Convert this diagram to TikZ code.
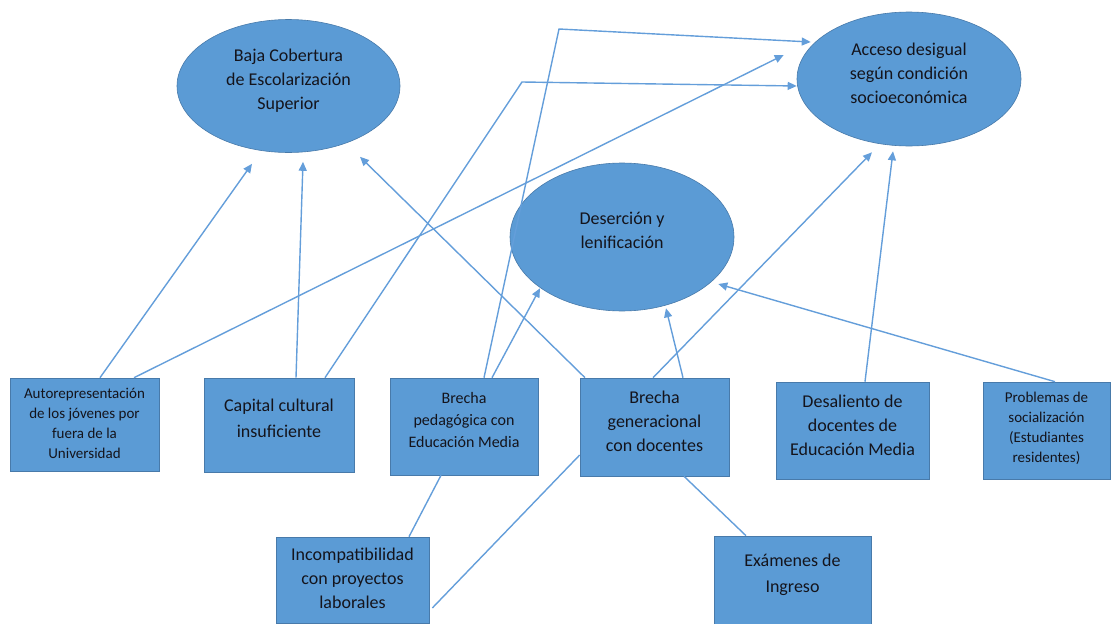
\documentclass[tikz,border=0pt]{standalone}
\usepackage{fontspec}
\setmainfont{Carlito}
\usetikzlibrary{shapes.geometric,arrows.meta}

\definecolor{shapeblue}{RGB}{91,155,213}
\definecolor{edgeblue}{RGB}{72,122,170}
\definecolor{lineblue}{RGB}{100,158,218}
\definecolor{inkgray}{RGB}{20,20,28}

\tikzset{
  oval/.style={ellipse, fill=shapeblue, draw=edgeblue, line width=0.6pt, inner sep=0pt},
  box/.style={rectangle, fill=shapeblue, draw=edgeblue, line width=0.6pt, inner sep=0pt},
  txt/.style={text=inkgray, align=center, inner sep=0pt, font=\fontsize{18}{24}\selectfont},
  smalltxt/.style={txt, font=\fontsize{15}{20}\selectfont},
  link/.style={draw=lineblue, line width=1.4pt, -{Triangle[length=9pt,width=8pt]}},
  plain/.style={draw=lineblue, line width=1.4pt}
}

\begin{document}
\begin{tikzpicture}[x=1pt,y=-1pt]
    \useasboundingbox (0,0) rectangle (1112,624);
    % ellipses
    \node[oval, minimum width=223pt, minimum height=133pt] (baja) at (288.5,86) {};
    \node[oval, minimum width=224pt, minimum height=134pt] (acceso) at (909,79) {};
    \node[oval, minimum width=224pt, minimum height=148pt] (desercion) at (622,237) {};
    \node[txt] (bajaT) at ([yshift=5pt]baja.center) {Baja Cobertura\\de Escolarización\\Superior};
    \node[txt] (accesoT) at ([yshift=5.5pt]acceso.center) {Acceso desigual\\según condición\\socioeconómica};
    \node[txt] (desercionT) at ([yshift=7pt]desercion.center) {Deserción y\\lenificación};
    % boxes, upper row
    \node[box, minimum width=149pt, minimum height=93pt] (auto) at (84.5,424.5) {};
    \node[box, minimum width=150pt, minimum height=94pt] (capital) at (279,425) {};
    \node[box, minimum width=148pt, minimum height=97pt] (bped) at (464,426.5) {};
    \node[box, minimum width=149pt, minimum height=98pt] (bgen) at (654.5,427) {};
    \node[box, minimum width=153pt, minimum height=97pt] (desal) at (852.5,430.5) {};
    \node[box, minimum width=127pt, minimum height=97pt] (probl) at (1046.5,430.5) {};
    % boxes, lower row
    \node[box, minimum width=153pt, minimum height=86pt] (incomp) at (352.5,580) {};
    \node[box, minimum width=157pt, minimum height=88pt] (exam) at (792.5,580) {};
    % box texts
    \node[smalltxt] (autoT) at ([yshift=1.5pt]auto.center) {Autorepresentación\\de los jóvenes por\\fuera de la\\Universidad};
    \node[txt, font=\fontsize{18}{26}\selectfont] (capitalT) at ([yshift=7pt]capital.center) {Capital cultural\\insuficiente};
    \node[txt, font=\fontsize{16}{22}\selectfont] (bpedT) at ([yshift=6.5pt]bped.center) {Brecha\\pedagógica con\\Educación Media};
    \node[txt] (bgenT) at ([yshift=5.5pt]bgen.center) {Brecha\\generacional\\con docentes};
    \node[txt] (desalT) at ([yshift=5.5pt]desal.center) {Desaliento de\\docentes de\\Educación Media};
    \node[smalltxt] (problT) at ([yshift=2.5pt]probl.center) {Problemas de\\socialización\\(Estudiantes\\residentes)};
    \node[txt] (incompT) at ([yshift=1.5pt]incomp.center) {Incompatibilidad\\con proyectos\\laborales};
    \node[txt, font=\fontsize{18}{26}\selectfont] (examT) at ([yshift=5pt]exam.center) {Exámenes de\\Ingreso};
    % bends
    \coordinate (k1) at (522,82);
    \coordinate (k2) at (559,29);
    % arrows
    \draw[link] ([xshift=15.5pt]auto.north) -- ([xshift=-36.5pt,yshift=-11pt]baja.south);
    \draw[link] ([xshift=49.5pt]auto.north) -- ([xshift=-13pt,yshift=24pt]acceso.west);
    \draw[link] ([xshift=17pt]capital.north) -- ([xshift=14.5pt,yshift=-9pt]baja.south);
    \draw[link] ([xshift=46pt]capital.north) -- (k1) -- ([yshift=-7pt]acceso.west);
    \draw[link] ([xshift=20pt]bped.north) -- (k2) -- ([xshift=14pt,yshift=37pt]acceso.west);
    \draw[link] ([xshift=28pt]bped.north) -- ([xshift=-82pt,yshift=23pt]desercion.south);
    \draw[link] ([xshift=-69.5pt]bgen.north) -- ([xshift=71.5pt,yshift=-4pt]baja.south);
    \draw[link] ([xshift=28.5pt]bgen.north) -- ([xshift=44pt,yshift=3pt]desercion.south);
    \draw[link] ([xshift=-1.5pt]bgen.north) -- ([xshift=-37pt,yshift=-6pt]acceso.south);
    \draw[link] ([xshift=12.5pt]desal.north) -- ([xshift=-16pt,yshift=-5pt]acceso.south);
    \draw[link] ([xshift=8.5pt]probl.north) -- ([xshift=-16pt,yshift=-47pt]desercion.east);
    % plain lines
    \draw[plain] ([xshift=-23pt]bped.south) -- ([xshift=56.5pt]incomp.north);
    \draw[plain] ([yshift=-28pt]bgen.west) -- ([xshift=3pt,yshift=-28pt]incomp.east);
    \draw[plain] ([xshift=29.5pt]bgen.south) -- ([xshift=-46.5pt]exam.north);
\end{tikzpicture}
\end{document}
